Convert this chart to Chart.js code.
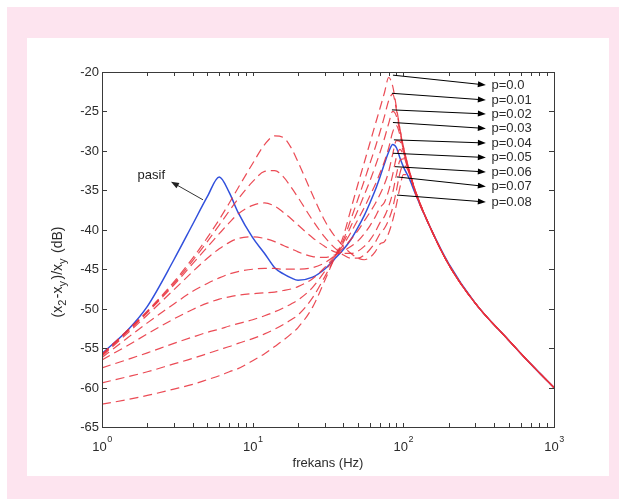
<!DOCTYPE html>
<html>
<head>
<meta charset="utf-8">
<script src="https://cdn.jsdelivr.net/npm/chart.js@4.4.1/dist/chart.umd.min.js"></script>
<style>
  html, body { margin: 0; padding: 0; background: #fff; }
  #frame { position: absolute; left: 7px; top: 7px; width: 612px; height: 492px; background: #fde4ef; }
  #panel { position: absolute; left: 27px; top: 38px; width: 582px; height: 438px; background: #fff; }
  canvas { display: block; }
</style>
</head>
<body>
<div id="frame"></div>
<div id="panel"><canvas id="chart" width="582" height="438"></canvas></div>
<script>
// frequency grid (Hz)
const freq = [1, 1.5, 2, 3, 4, 5, 6, 7, 8, 10, 12, 14, 16, 18, 20, 25, 30, 35, 40, 45, 50, 55, 60, 65, 70, 75, 80, 85, 90, 95, 100, 110, 120, 150, 200, 300, 500, 700, 1000];

// passive system (dB)
const pasif = [-55.7, -52.6, -49.7, -43.8, -39.3, -35.8, -33.3, -35.3, -37.8, -41.0, -43.0, -44.8, -45.6, -46.1, -46.4, -46.0, -45.0, -43.7, -42.5, -41.2, -39.7, -38.2, -36.6, -35.0, -33.3, -31.6, -30.1, -29.2, -29.6, -30.9, -32.0, -33.6, -35.4, -39.6, -44.3, -49.3, -54.0, -57.0, -60.0];

// active system, p = 0.0 ... 0.08 (dB)
const p000 = [-62.1, -61.5, -61.0, -60.2, -59.6, -59.0, -58.5, -58.0, -57.6, -56.6, -55.7, -54.8, -54.0, -53.2, -52.4, -49.8, -46.5, -43.5, -40.8, -37.3, -34.2, -31.5, -29.0, -26.7, -24.6, -22.6, -20.7, -21.8, -24.5, -27.2, -29.4, -32.6, -35.0, -39.6, -44.4, -49.3, -54.0, -57.0, -60.0];
const p001 = [-59.4, -58.6, -58.0, -57.0, -56.3, -55.7, -55.2, -54.8, -54.4, -53.8, -53.2, -52.6, -52.0, -51.4, -50.8, -48.6, -46.0, -43.6, -41.3, -38.6, -36.1, -33.8, -31.6, -29.6, -27.6, -25.6, -23.6, -22.8, -24.8, -27.3, -29.5, -32.6, -35.0, -39.6, -44.4, -49.3, -54.0, -57.0, -60.0];
const p002 = [-57.5, -56.4, -55.6, -54.4, -53.6, -53.0, -52.6, -52.2, -51.9, -51.4, -50.9, -50.4, -49.9, -49.4, -48.9, -47.3, -45.3, -43.5, -41.6, -39.5, -37.5, -35.6, -33.8, -32.0, -30.2, -28.4, -26.5, -25.0, -25.6, -27.6, -29.6, -32.7, -35.0, -39.6, -44.4, -49.3, -54.0, -57.0, -60.0];
const p003 = [-56.5, -54.6, -53.2, -51.3, -50.1, -49.3, -48.8, -48.5, -48.3, -48.1, -48.0, -47.9, -47.7, -47.5, -47.2, -46.2, -44.8, -43.4, -41.9, -40.3, -38.7, -37.2, -35.7, -34.3, -32.8, -31.3, -29.6, -27.6, -26.8, -28.0, -29.8, -32.8, -35.1, -39.6, -44.4, -49.3, -54.0, -57.0, -60.0];
const p004 = [-56.2, -53.6, -51.8, -49.4, -47.8, -46.8, -46.1, -45.6, -45.3, -45.0, -44.9, -44.9, -45.0, -45.0, -45.0, -44.8, -44.2, -43.3, -42.3, -41.2, -40.1, -38.9, -37.8, -36.7, -35.5, -34.2, -32.6, -30.4, -28.7, -28.8, -30.1, -32.9, -35.1, -39.6, -44.4, -49.3, -54.0, -57.0, -60.0];
const p005 = [-56.0, -53.0, -50.8, -47.6, -45.3, -43.6, -42.4, -41.6, -41.1, -40.9, -41.1, -41.5, -42.0, -42.4, -42.8, -43.4, -43.5, -43.2, -42.7, -42.1, -41.4, -40.5, -39.5, -38.4, -37.2, -36.5, -35.0, -33.0, -30.8, -29.8, -30.5, -33.0, -35.2, -39.6, -44.4, -49.3, -54.0, -57.0, -60.0];
const p006 = [-55.9, -52.8, -50.5, -47.0, -44.3, -42.2, -40.5, -39.1, -38.0, -36.9, -36.6, -37.0, -37.8, -38.6, -39.4, -41.0, -42.1, -42.8, -43.0, -43.0, -42.7, -42.1, -41.3, -40.3, -39.1, -38.3, -37.0, -35.3, -33.0, -31.2, -31.0, -32.8, -35.2, -39.6, -44.4, -49.3, -54.0, -57.0, -60.0];
const p007 = [-55.8, -52.7, -50.4, -46.8, -43.9, -41.5, -39.4, -37.6, -36.1, -33.9, -32.6, -32.5, -33.3, -34.6, -35.9, -38.8, -40.9, -42.3, -43.2, -43.6, -43.6, -43.2, -42.5, -41.6, -40.5, -39.8, -38.7, -37.2, -35.0, -32.8, -31.8, -32.9, -35.3, -39.6, -44.4, -49.3, -54.0, -57.0, -60.0];
const p008 = [-55.8, -52.6, -50.3, -46.6, -43.6, -41.0, -38.7, -36.6, -34.7, -31.6, -29.2, -28.1, -28.3, -29.6, -31.4, -35.6, -38.8, -40.8, -42.1, -43.0, -43.6, -43.8, -43.5, -42.8, -41.8, -41.5, -40.4, -38.8, -36.8, -34.6, -33.0, -33.0, -35.3, -39.6, -44.4, -49.3, -54.0, -57.0, -60.0];

const activeSeries = [p000, p001, p002, p003, p004, p005, p006, p007, p008];
const pLabels = ['p=0.0', 'p=0.01', 'p=0.02', 'p=0.03', 'p=0.04', 'p=0.05', 'p=0.06', 'p=0.07', 'p=0.08'];

// axis ticks
const yTicks = [-20, -25, -30, -35, -40, -45, -50, -55, -60, -65];
const xDecades = [1, 10, 100, 1000];
const xExponents = ['0', '1', '2', '3'];

// annotation anchors in data units: arrow start on the curve, label position
const pArrowFrom = [[85.3, -20.4], [84.0, -22.7], [84.0, -24.8], [85.3, -26.4], [86.6, -28.6], [85.3, -30.3], [88.0, -32.0], [90.7, -33.3], [90.7, -35.6]];
const pLabelY = [-21.65, -23.55, -25.32, -27.16, -29.0, -30.84, -32.67, -34.51, -36.48];
const pArrowTipX = 353;
const pLabelX = 385;
const pasifArrow = { from: [4.68, -36.2], to: [2.87, -33.9], text: [2.62, -33.1] };

const FONT = '"Liberation Sans", Arial, sans-serif';
const INK = '#2b2b2b';

function arrow(ctx, x1, y1, x2, y2) {
  const a = Math.atan2(y2 - y1, x2 - x1);
  const len = 8, w = 3;
  ctx.beginPath();
  ctx.moveTo(x1, y1);
  ctx.lineTo(x2 - Math.cos(a) * len * 0.8, y2 - Math.sin(a) * len * 0.8);
  ctx.stroke();
  ctx.beginPath();
  ctx.moveTo(x2, y2);
  ctx.lineTo(x2 - Math.cos(a) * len + Math.sin(a) * w, y2 - Math.sin(a) * len - Math.cos(a) * w);
  ctx.lineTo(x2 - Math.cos(a) * len - Math.sin(a) * w, y2 - Math.sin(a) * len + Math.cos(a) * w);
  ctx.closePath();
  ctx.fill();
}

const matlabAxes = {
  id: 'matlabAxes',
  afterDatasetsDraw(chart) {
    const { ctx, chartArea: a, scales: { x, y } } = chart;
    ctx.save();
    ctx.strokeStyle = '#3a3a3a';
    ctx.fillStyle = INK;
    ctx.lineWidth = 1;
    ctx.strokeRect(Math.round(a.left) + 0.5, Math.round(a.top) + 0.5, Math.round(a.right - a.left), Math.round(a.bottom - a.top));

    // y ticks (inward, both sides) and labels
    ctx.font = '13px ' + FONT;
    ctx.textAlign = 'right';
    ctx.textBaseline = 'middle';
    yTicks.forEach(v => {
      const py = Math.round(y.getPixelForValue(v)) + 0.5;
      ctx.beginPath();
      ctx.moveTo(a.left, py); ctx.lineTo(a.left + 5, py);
      ctx.moveTo(a.right, py); ctx.lineTo(a.right - 5, py);
      ctx.stroke();
      ctx.fillText(String(v), a.left - 3, py);
    });

    // x ticks (log minor ticks, inward, top and bottom)
    xDecades.slice(0, 3).forEach(d => {
      for (let m = 1; m <= 10; m++) {
        const px = Math.round(x.getPixelForValue(d * m)) + 0.5;
        ctx.beginPath();
        ctx.moveTo(px, a.bottom); ctx.lineTo(px, a.bottom - 4);
        ctx.moveTo(px, a.top); ctx.lineTo(px, a.top + 4);
        ctx.stroke();
      }
    });

    // x labels 10^n
    xDecades.forEach((d, i) => {
      const px = x.getPixelForValue(d);
      ctx.font = '13px ' + FONT;
      const wBase = ctx.measureText('10').width;
      ctx.font = '9px ' + FONT;
      const wExp = ctx.measureText(xExponents[i]).width;
      const left = px - (wBase + wExp) / 2;
      ctx.textAlign = 'left';
      ctx.textBaseline = 'alphabetic';
      ctx.font = '13px ' + FONT;
      ctx.fillText('10', left, a.bottom + 24);
      ctx.font = '9px ' + FONT;
      ctx.fillText(xExponents[i], left + wBase + 0.5, a.bottom + 15);
    });

    // x title
    ctx.font = '13px ' + FONT;
    ctx.textAlign = 'center';
    ctx.textBaseline = 'middle';
    ctx.fillText('frekans (Hz)', (a.left + a.right) / 2, a.bottom + 36);

    // y title with subscripts, rotated
    const parts = [['(x', 0], ['2', 1], ['-x', 0], ['y', 1], [')/x', 0], ['y', 1], [' (dB)', 0]];
    const gap = 1.5;
    ctx.save();
    ctx.translate(a.left - 44, a.top + 200);
    ctx.rotate(-Math.PI / 2);
    let total = 0;
    parts.forEach(([t, sub]) => {
      ctx.font = (sub ? '11px ' : '14px ') + FONT;
      total += ctx.measureText(t).width + (sub ? gap : 0);
    });
    let cx = -total / 2;
    ctx.textAlign = 'left';
    ctx.textBaseline = 'alphabetic';
    parts.forEach(([t, sub]) => {
      ctx.font = (sub ? '11px ' : '14px ') + FONT;
      ctx.fillText(t, cx, sub ? 8 : 4);
      cx += ctx.measureText(t).width + (sub ? gap : 0);
    });
    ctx.restore();

    // p annotations
    ctx.strokeStyle = '#000';
    ctx.fillStyle = '#000';
    ctx.font = '13px ' + FONT;
    ctx.textAlign = 'left';
    ctx.textBaseline = 'middle';
    pLabels.forEach((t, i) => {
      const x1 = x.getPixelForValue(pArrowFrom[i][0]);
      const y1 = y.getPixelForValue(pArrowFrom[i][1]);
      const y2 = y.getPixelForValue(pLabelY[i]);
      arrow(ctx, x1, y1, x.getPixelForValue(pArrowTipX), y2);
      ctx.fillStyle = INK;
      ctx.fillText(t, x.getPixelForValue(pLabelX), y2);
      ctx.fillStyle = '#000';
    });

    // pasif annotation
    ctx.strokeStyle = '#333';
    ctx.fillStyle = '#222';
    arrow(ctx,
      x.getPixelForValue(pasifArrow.from[0]), y.getPixelForValue(pasifArrow.from[1]),
      x.getPixelForValue(pasifArrow.to[0]), y.getPixelForValue(pasifArrow.to[1]));
    ctx.font = '13px ' + FONT;
    ctx.textAlign = 'right';
    ctx.fillText('pasif', x.getPixelForValue(pasifArrow.text[0]), y.getPixelForValue(pasifArrow.text[1]));
    ctx.restore();
  }
};

document.addEventListener('DOMContentLoaded', () => {
  const toPoints = arr => freq.map((f, i) => ({ x: f, y: arr[i] }));

  const datasets = activeSeries.map((s, i) => ({
    label: pLabels[i],
    data: toPoints(s),
    borderColor: 'rgba(232, 50, 62, 0.88)',
    borderWidth: 1.2,
    borderDash: [9, 5],
    pointRadius: 0,
    fill: false,
    cubicInterpolationMode: 'monotone'
  }));
  datasets.push({
    label: 'pasif',
    data: toPoints(pasif),
    borderColor: '#3150dc',
    borderWidth: 1.5,
    pointRadius: 0,
    fill: false,
    cubicInterpolationMode: 'monotone'
  });

  new Chart(document.getElementById('chart').getContext('2d'), {
    type: 'line',
    data: { datasets },
    options: {
      responsive: false,
      animation: false,
      devicePixelRatio: 1,
      layout: { padding: { left: 75, top: 34, right: 55, bottom: 49 } },
      plugins: { legend: { display: false }, tooltip: { enabled: false } },
      scales: {
        x: { type: 'logarithmic', min: 1, max: 1000, display: false },
        y: { type: 'linear', min: -65, max: -20, display: false }
      }
    },
    plugins: [matlabAxes]
  });
});
</script>
</body>
</html>
